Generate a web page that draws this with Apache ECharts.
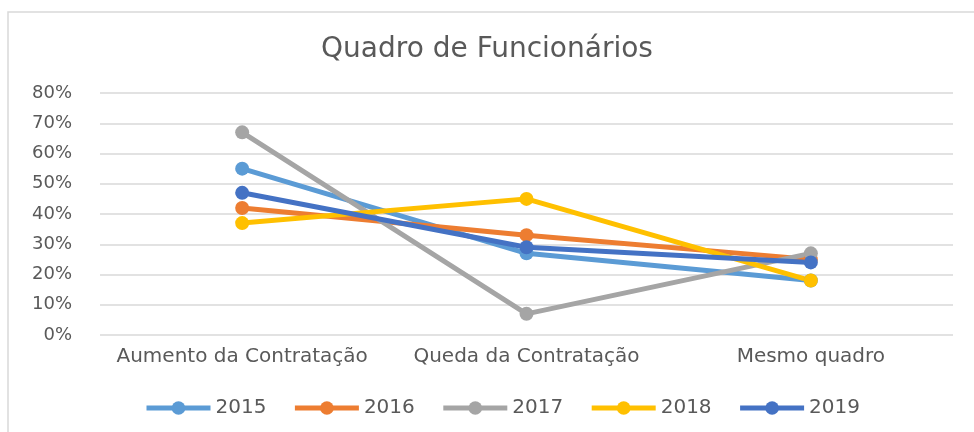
<!DOCTYPE html>
<html>
<head>
<meta charset="utf-8">
<script src="https://cdn.jsdelivr.net/npm/echarts@6/dist/echarts.min.js"></script>
<style>
  html, body { margin: 0; padding: 0; background: #fff; }
  #chart { width: 974px; height: 432px; }
</style>
</head>
<body>
<div id="chart"></div>
<script>
// categorias e valores (%)
const categories = ['Aumento da Contratação', 'Queda da Contratação', 'Mesmo quadro'];
const years = ['2015', '2016', '2017', '2018', '2019'];
const v2015 = [55, 27, 18];
const v2016 = [42, 33, 25];
const v2017 = [67, 7, 27];
const v2018 = [37, 45, 18];
const v2019 = [47, 29, 24];
const colors = ['#5B9BD5', '#ED7D31', '#A5A5A5', '#FFC000', '#4472C4'];

const seriesValues = [v2015, v2016, v2017, v2018, v2019];
const font = 'DejaVu Sans';

var myChart = echarts.init(document.getElementById('chart'));

myChart.setOption({
    animation: false,
    graphic: [{
        type: 'rect',
        shape: { x: 8, y: 12, width: 1000, height: 500 },
        style: { fill: 'none', stroke: '#d9d9d9', lineWidth: 1.5 },
        silent: true
    }],
    title: {
        text: 'Quadro de Funcionários',
        left: 'center',
        top: 31,
        textStyle: {
            fontFamily: font,
            fontSize: 28,
            fontWeight: 'normal',
            color: '#595959'
        }
    },
    grid: {
        left: 100,
        right: 21,
        top: 93,
        bottom: 97
    },
    legend: {
        data: years,
        left: 139,
        top: 393,
        itemWidth: 64,
        itemHeight: 17,
        itemGap: 26,
        lineStyle: { width: 5 },
        textStyle: {
            fontFamily: font,
            fontSize: 20,
            color: '#595959'
        }
    },
    xAxis: {
        type: 'category',
        data: categories,
        boundaryGap: true,
        axisLine: { show: false },
        axisTick: { show: false },
        axisLabel: {
            interval: 0,
            hideOverlap: false,
            fontFamily: font,
            fontSize: 20,
            color: '#595959',
            margin: 12
        }
    },
    yAxis: {
        type: 'value',
        min: 0,
        max: 80,
        interval: 10,
        axisLine: { show: false },
        axisTick: { show: false },
        axisLabel: {
            formatter: '{value}%',
            fontFamily: font,
            fontSize: 18,
            color: '#595959',
            margin: 28
        },
        splitLine: {
            lineStyle: { color: '#d9d9d9', width: 1.5 }
        }
    },
    series: years.map((y, i) => ({
        name: y,
        type: 'line',
        data: seriesValues[i],
        symbol: 'circle',
        symbolSize: 14,
        showAllSymbol: true,
        lineStyle: { color: colors[i], width: 5 },
        itemStyle: { color: colors[i] },
        emphasis: { disabled: true }
    }))
});
</script>
</body>
</html>
